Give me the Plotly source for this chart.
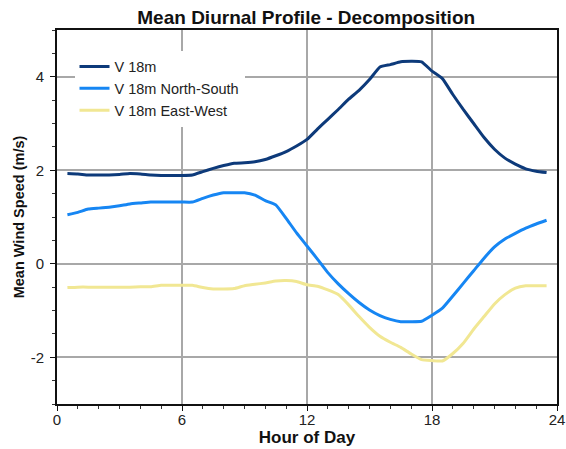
import plotly.graph_objects as go

# Hour of day (half-hour steps)
hours = [0.5, 1.0, 1.5, 2.0, 2.5, 3.0, 3.5, 4.0, 4.5, 5.0, 5.5, 6.0, 6.5, 7.0, 7.5, 8.0,
         8.5, 9.0, 9.5, 10.0, 10.5, 11.0, 11.5, 12.0, 12.5, 13.0, 13.5, 14.0, 14.5, 15.0,
         15.5, 16.0, 16.5, 17.0, 17.5, 18.0, 18.5, 19.0, 19.5, 20.0, 20.5, 21.0, 21.5,
         22.0, 22.5, 23.0, 23.5]

# Mean wind speed at 18 m (m/s)
v18 = [1.93, 1.92, 1.90, 1.90, 1.90, 1.91, 1.93, 1.92, 1.90, 1.89, 1.89, 1.89, 1.90,
       1.97, 2.04, 2.10, 2.15, 2.16, 2.18, 2.23, 2.31, 2.40, 2.52, 2.66, 2.88, 3.09,
       3.30, 3.52, 3.71, 3.94, 4.21, 4.26, 4.32, 4.33, 4.32, 4.12, 3.96, 3.62, 3.30,
       3.00, 2.70, 2.45, 2.26, 2.13, 2.03, 1.98, 1.95]

# North-South component
v18_ns = [1.05, 1.10, 1.17, 1.19, 1.21, 1.24, 1.28, 1.30, 1.32, 1.32, 1.32, 1.32, 1.32,
          1.40, 1.47, 1.52, 1.52, 1.52, 1.47, 1.35, 1.26, 0.97, 0.66, 0.38, 0.10, -0.19,
          -0.43, -0.64, -0.83, -0.99, -1.11, -1.19, -1.24, -1.24, -1.23, -1.10, -0.95,
          -0.69, -0.42, -0.15, 0.12, 0.36, 0.53, 0.65, 0.76, 0.85, 0.93]

# East-West component
v18_ew = [-0.51, -0.50, -0.50, -0.50, -0.50, -0.50, -0.50, -0.49, -0.49, -0.46, -0.46,
          -0.46, -0.46, -0.51, -0.54, -0.54, -0.53, -0.47, -0.44, -0.41, -0.37, -0.36,
          -0.38, -0.45, -0.48, -0.56, -0.66, -0.88, -1.13, -1.36, -1.55, -1.68, -1.79,
          -1.93, -2.05, -2.07, -2.08, -1.92, -1.70, -1.40, -1.13, -0.86, -0.66, -0.52,
          -0.47, -0.47, -0.47]

series_names = ["V 18m", "V 18m North-South", "V 18m East-West"]
series_colors = ["#0D3A7A", "#1686F3", "#F1E793"]

x_ticks = [0, 6, 12, 18, 24]
y_ticks = [-2, 0, 2, 4]

FONT = "Liberation Sans, Arial, sans-serif"

fig = go.Figure()
for name, vals, col in zip(series_names, [v18, v18_ns, v18_ew], series_colors):
    fig.add_trace(go.Scatter(
        x=hours, y=vals, name=name, mode="lines",
        line=dict(color=col, width=3, shape="spline", smoothing=0.4),
    ))

tick_font = dict(family=FONT, size=15, color="#222222")

fig.update_layout(
    width=566, height=449,
    margin=dict(l=57, r=9, t=30, b=45),
    paper_bgcolor="white", plot_bgcolor="white",
    title=dict(text="<b>Mean Diurnal Profile - Decomposition</b>",
               x=0.541, xanchor="center", y=0.962, yanchor="middle",
               font=dict(family=FONT, size=19, color="#111111")),
    legend=dict(x=0.035, y=0.945, xanchor="left", yanchor="top",
                bgcolor="white", borderwidth=0,
                font=dict(family=FONT, size=14.5, color="#222222"),
                itemwidth=30, tracegroupgap=0),
    showlegend=True,
)

fig.update_xaxes(
    range=[0, 24], tickvals=x_ticks, ticktext=[str(v) for v in x_ticks],
    automargin=False,
    showgrid=True, gridcolor="#A8A8A8", gridwidth=1.5,
    showline=True, linecolor="#111111", linewidth=2, mirror=True,
    ticks="outside", ticklen=5, tickcolor="#111111", ticklabelstandoff=-4,
    minor=dict(dtick=1, ticks="outside", ticklen=3, tickcolor="#333333", showgrid=False),
    tickfont=tick_font, zeroline=False,
    title=dict(text="<b>Hour of Day</b>", font=dict(family=FONT, size=17, color="#111111"),
               standoff=4),
)
fig.update_yaxes(
    range=[-3, 5], tickvals=y_ticks, ticktext=[str(v) for v in y_ticks],
    automargin=False,
    showgrid=True, gridcolor="#A8A8A8", gridwidth=1.5,
    showline=True, linecolor="#111111", linewidth=2, mirror=True,
    ticks="outside", ticklen=5, tickcolor="#111111", ticklabelstandoff=3,
    minor=dict(dtick=0.5, ticks="outside", ticklen=3, tickcolor="#333333", showgrid=False),
    tickfont=tick_font, zeroline=False,
    title=dict(text="<b>Mean Wind Speed (m/s)</b>",
               font=dict(family=FONT, size=14.5, color="#111111"), standoff=3),
)

fig.write_html("out.html")
